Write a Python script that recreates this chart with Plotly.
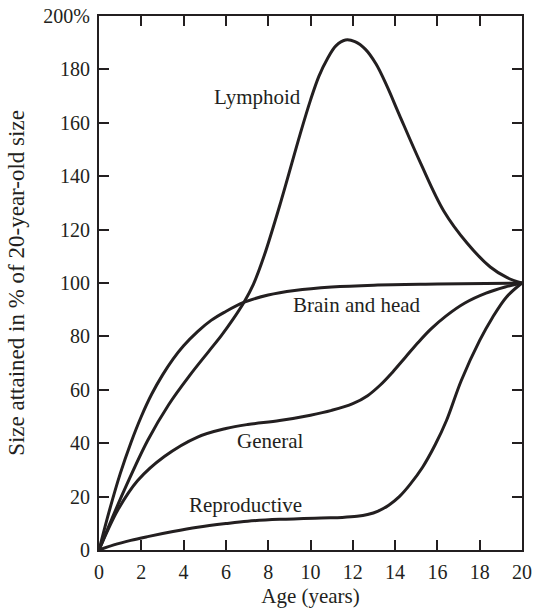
import plotly.graph_objects as go

# ---- data ----
lymph_x = [0, 0.6, 1.2, 2.3, 3.3, 4.3, 5.2, 5.8, 6.3, 6.87, 7.3, 7.8, 8.6, 9.5, 10.0, 10.4, 10.8, 11.2, 11.65, 12.1, 12.6, 13.1, 13.6, 14.2, 15.2, 16.3, 17.4, 18.5, 19.3, 20]
lymph_y = [0, 11.5, 22.5, 41, 54.5, 65.5, 74.5, 80.5, 86, 93, 99.5, 110, 130.5, 155.5, 168.5, 177.5, 184, 188.8, 191, 190.4, 187.5, 182, 174, 163, 145, 127, 115, 106, 102, 100]

brain_x = [0, 0.5, 1.0, 1.5, 2.0, 2.5, 3.0, 3.5, 4.0, 4.66, 5.3, 5.92, 6.87, 8.0, 9.25, 11.0, 13.0, 16.0, 20]
brain_y = [0, 15, 28.5, 40, 50, 58.5, 65.5, 71.5, 76.5, 81.8, 86, 89, 92.8, 95.5, 97.2, 98.5, 99.2, 99.6, 100]

general_x = [0, 0.45, 0.89, 1.83, 3.09, 4.66, 6.0, 7.03, 8.54, 10.0, 11.0, 12.0, 12.7, 13.3, 13.9, 14.5, 15.1, 15.7, 16.4, 17.3, 18.3, 19.2, 20]
general_y = [0, 8, 15, 26, 35, 42.3, 45.5, 47, 48.5, 50.5, 52.3, 54.8, 57.8, 61.8, 66.8, 72.3, 77.8, 82.8, 87.6, 92.5, 96.2, 98.5, 100]

repro_x = [0, 0.7, 1.5, 2.3, 3.5, 4.66, 6.0, 7.03, 8.54, 10.5, 11.5, 12.2, 12.7, 13.2, 13.7, 14.2, 14.7, 15.3, 15.9, 16.43, 17.13, 18.0, 18.6, 19.26, 20]
repro_y = [0, 1.9, 3.6, 5.0, 6.9, 8.5, 9.9, 10.8, 11.5, 12, 12.2, 12.6, 13.3, 14.6, 16.8, 20, 24.5, 31, 39.5, 48.5, 63.5, 78.5, 87, 94.7, 100]

labels = ["Lymphoid", "Brain and head", "General", "Reproductive"]
label_x = [7.5, 12.2, 8.1, 6.92]
label_y = [169.5, 91.6, 41, 16.7]

x_ticks = list(range(0, 21, 2))
y_ticks = list(range(0, 201, 20))
y_ticktext = [str(v) for v in y_ticks[:-1]] + ["200%"]

INK = "#231f20"
FONT = "Liberation Serif, Times New Roman, serif"

fig = go.Figure()
for xs, ys in [(lymph_x, lymph_y), (brain_x, brain_y), (general_x, general_y), (repro_x, repro_y)]:
    fig.add_trace(go.Scatter(x=xs, y=ys, mode="lines",
                             line=dict(color=INK, width=3, shape="spline", smoothing=1.0),
                             cliponaxis=False, showlegend=False, hoverinfo="skip"))

for t, lx, ly in zip(labels, label_x, label_y):
    fig.add_annotation(x=lx, y=ly, text=t, showarrow=False,
                       font=dict(family=FONT, size=21, color=INK))

axis_common = dict(showline=True, linecolor=INK, linewidth=2, mirror="ticks",
                   ticks="inside", ticklen=10, tickwidth=1.5, tickcolor=INK,
                   showgrid=False, zeroline=False, ticklabelstandoff=3, automargin=False,
                   tickfont=dict(family=FONT, size=20, color=INK))

fig.update_xaxes(range=[0, 20], tickvals=x_ticks, ticktext=[str(v) for v in x_ticks],
                 title=dict(text="Age (years)", font=dict(family=FONT, size=21, color=INK), standoff=6),
                 **axis_common)
fig.update_yaxes(range=[0, 200], tickvals=y_ticks, ticktext=y_ticktext,
                 title=dict(text="Size attained in % of 20-year-old size",
                            font=dict(family=FONT, size=23, color=INK), standoff=12),
                 **axis_common)

fig.update_layout(width=534, height=611, plot_bgcolor="white", paper_bgcolor="white",
                  margin=dict(l=99, r=12, t=16, b=61), font=dict(family=FONT, color=INK))

fig.write_html("out.html", config={"displayModeBar": False},
               post_script="document.body.style.margin='0';document.body.style.overflow='hidden';")
